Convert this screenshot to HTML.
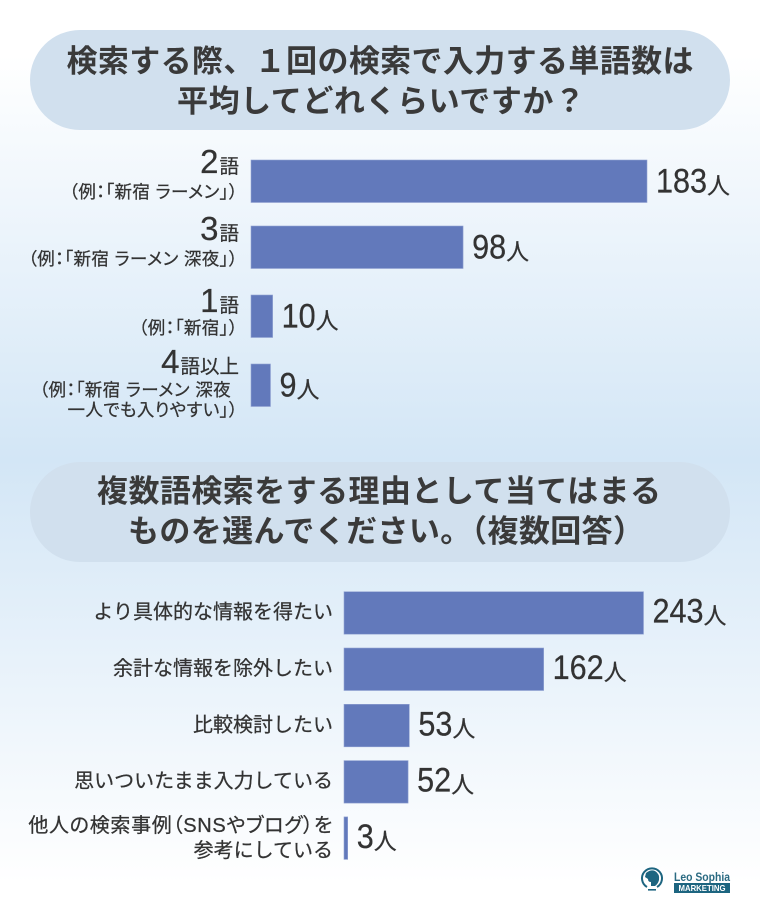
<!DOCTYPE html>
<html lang="ja">
<head>
<meta charset="utf-8">
<title>検索単語数の調査</title>
<style>
html,body{margin:0;padding:0;background:#fff}
#stage{display:block;width:760px;height:920px}
text{font-family:"Liberation Sans","Noto Sans CJK JP",sans-serif;fill:#333}
.title{font-size:31px;font-weight:700;fill:#3a3a3a;text-anchor:middle}
.lab{stroke:#333;stroke-width:.25}
.palt{font-feature-settings:"palt"}
</style>
</head>
<body>
<svg id="stage" xmlns="http://www.w3.org/2000/svg" width="760" height="920" viewBox="0 0 760 920">
  <defs>
    <linearGradient id="bgGrad" x1="0" y1="0" x2="0" y2="1">
      <stop offset="0.06" stop-color="#ffffff"/>
      <stop offset="0.5" stop-color="#d3e6f6"/>
      <stop offset="0.96" stop-color="#ffffff"/>
    </linearGradient>
  </defs>
  <rect width="760" height="920" fill="url(#bgGrad)"/>

  <g>
    <rect x="30" y="30" width="700" height="100" rx="50" ry="50" fill="#d1e0ee"/>
    <text class="title" x="380" y="72" textLength="627" lengthAdjust="spacing">検索する際、１回の検索で入力する単語数は</text>
    <text class="title" x="381" y="112" textLength="408" lengthAdjust="spacing">平均してどれくらいですか？</text>
  </g>
  <g id="chartOne"></g>

  <g>
    <rect x="30" y="462" width="700" height="100" rx="50" ry="50" fill="#d1e0ee"/>
    <text class="title" x="379" y="502" textLength="564" lengthAdjust="spacing">複数語検索をする理由として当てはまる</text>
    <text class="title" x="386" y="542" textLength="516" lengthAdjust="spacing">ものを選んでください。（複数回答）</text>
  </g>
  <g id="chartTwo"></g>

  <g>
    <path d="M647 887 A10 10 0 1 1 657 887" fill="none" stroke="#1d6580" stroke-width="2"/>
    <path d="M646 873 q5 -4 9 -2 q5 3 4 9 q-1 4 -4 6 l-4 0 l0 -4 q-3 0 -3 -3 l-3 -2 z" fill="#1d6580"/>
    <rect x="648" y="889" width="8" height="1.6" fill="#1d6580"/>
    <text x="674" y="881" font-size="11.5" font-weight="700" style="fill:#2a6a82" textLength="56" lengthAdjust="spacingAndGlyphs">Leo Sophia</text>
    <rect x="674" y="883" width="56" height="10" fill="#1d6580"/>
    <text x="702" y="891" font-size="8.5" font-weight="700" text-anchor="middle" style="fill:#fff" textLength="47" lengthAdjust="spacingAndGlyphs">MARKETING</text>
  </g>
</svg>
<script>
const NS = 'http://www.w3.org/2000/svg';

/* Chart 1 data */
const wordCountCategories = ['2語', '3語', '1語', '4語以上'];
const wordCountExamples = [
  ['（例：「新宿 ラーメン」）'],
  ['（例：「新宿 ラーメン 深夜」）'],
  ['（例：「新宿」）'],
  ['（例：「新宿 ラーメン 深夜', '一人でも入りやすい」）']
];
const wordCountValues = [183, 98, 10, 9];

/* Chart 2 data */
const reasonCategories = [
  ['より具体的な情報を得たい'],
  ['余計な情報を除外したい'],
  ['比較検討したい'],
  ['思いついたまま入力している'],
  ['他人の検索事例（SNSやブログ）を', '参考にしている']
];
const reasonValues = [243, 162, 53, 52, 3];

const unitLabel = '人';
const barFill = '#6279bb';
const barEdge = '#93a4d3';

/* Axis functions */
function xOne(v) { return 251 + v * 396 / 183; }
function yOne(i) { return 160 + i * 69 - (i > 0 ? 3 : 0); }
function xTwo(v) { return 344 + v * 299.5 / 243; }
function yTwo(i) { return 591.7 + i * 56.3; }

/* Label drop below each row top, chart 1 */
function catDrop(i) { return i === 0 ? 13 : i === 1 ? 14 : i === 2 ? 17 : 9; }
function subDrop(i, k) { return i === 2 ? 22 : i === 3 ? 23 + k * 20 : 25; }

function makeText(parent, str, x, y, size, anchor, cls) {
  const t = document.createElementNS(NS, 'text');
  t.setAttribute('x', x);
  t.setAttribute('y', y);
  t.setAttribute('font-size', size);
  t.setAttribute('text-anchor', anchor);
  t.setAttribute('class', cls || 'lab');
  t.textContent = str;
  parent.appendChild(t);
  return t;
}

function drawBar(parent, x0, x1, y, h) {
  const r = document.createElementNS(NS, 'rect');
  
  
  r.setAttribute('x', x0);
  r.setAttribute('y', y);
  r.setAttribute('width', Math.max(0, x1 - x0));
  r.setAttribute('height', h);
  r.setAttribute('fill', barFill);
  r.setAttribute('stroke', barEdge);
  r.setAttribute('stroke-width', '0.6');
  parent.appendChild(r);
}

function drawValue(parent, value, x, baseline) {
  const num = makeText(parent, String(value), 0, 0, 34, 'start');
  num.setAttribute('transform', 'translate(' + x + ' ' + baseline + ') scale(0.9 1)');
  
  
  const width = num.getComputedTextLength() * 0.9;
  const unit = makeText(parent, unitLabel, x + width, baseline + 1, 23, 'start');
  
  
}

/* Chart 1 */
const chartOne = document.getElementById('chartOne');
wordCountValues.forEach(function (v, i) {
  const y = yOne(i);
  drawBar(chartOne, xOne(0), xOne(v), y, 42.5);
  drawValue(chartOne, v, xOne(v) + 9, y + 32.5);

  const cat = wordCountCategories[i];
  const digit = cat.charAt(0);
  const rest = cat.slice(1);
  const multiline = wordCountExamples[i].length > 1;
  const catBase = y + catDrop(i);
  const restText = makeText(chartOne, rest, 239, catBase, 19.5, 'end');
  
  
  const restWidth = restText.getComputedTextLength();
  const digitText = makeText(chartOne, digit, 239 - restWidth - 1, catBase, 33, 'end');
  
  

  wordCountExamples[i].forEach(function (line, k) {
    const lineX = (multiline && k === 0) ? 231 : 238;
    const sub = makeText(chartOne, line, lineX, catBase + subDrop(i, k), 17.5, 'end', 'lab palt');
    sub.setAttribute('letter-spacing', '0.4');
    
    
  });
});

/* Chart 2 */
const chartTwo = document.getElementById('chartTwo');
reasonValues.forEach(function (v, i) {
  const y = yTwo(i);
  drawBar(chartTwo, xTwo(0), xTwo(v), y, 42.5);
  drawValue(chartTwo, v, xTwo(v) + 9, y + 31);

  const lines = reasonCategories[i];
  lines.forEach(function (line, k) {
    const base = lines.length > 1 ? y + 15 + k * 25 : y + 27;
    const isLong = lines.length > 1 && k === 0;
    const label = makeText(chartTwo, line, 333, base, 20, 'end', isLong ? 'lab palt' : 'lab');
    if (isLong) {
      label.setAttribute('letter-spacing', '0.7');
    }
    
    
  });
});
</script>
</body>
</html>
